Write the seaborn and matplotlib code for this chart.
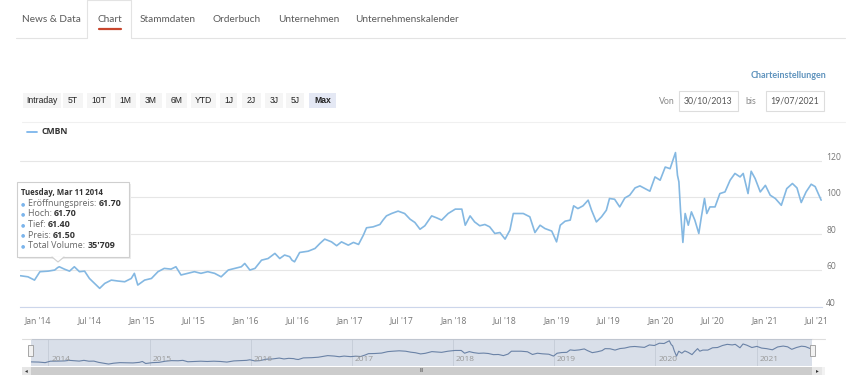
import pandas as pd
import matplotlib
matplotlib.use("Agg")
import matplotlib.pyplot as plt
import matplotlib.dates as mdates
from matplotlib.patches import Rectangle, Polygon
from matplotlib.lines import Line2D
from matplotlib.text import Annotation
from matplotlib.transforms import ScaledTranslation
import seaborn as sns

# CMBN price history (approx. every 2-3 weeks)
dates = [
    "2013-10-31", "2013-11-27", "2013-12-20", "2014-01-08", "2014-02-06", "2014-03-01",
    "2014-03-11", "2014-03-17", "2014-04-04", "2014-04-22", "2014-05-09", "2014-05-27",
    "2014-06-14", "2014-07-01", "2014-07-19", "2014-08-06", "2014-08-24", "2014-09-16",
    "2014-10-09", "2014-11-02", "2014-11-25", "2014-12-06", "2014-12-18", "2015-01-11",
    "2015-02-04", "2015-02-27", "2015-03-21", "2015-04-14", "2015-05-01", "2015-05-19",
    "2015-06-12", "2015-07-05", "2015-07-28", "2015-08-21", "2015-09-14", "2015-10-07",
    "2015-11-01", "2015-11-24", "2015-12-17", "2015-12-29", "2016-01-16", "2016-02-03",
    "2016-02-26", "2016-03-20", "2016-04-13", "2016-04-30", "2016-05-17", "2016-06-04",
    "2016-06-12", "2016-06-21", "2016-07-09", "2016-08-08", "2016-09-01", "2016-09-18",
    "2016-10-05", "2016-10-29", "2016-11-16", "2016-12-03", "2016-12-27", "2017-01-14",
    "2017-02-01", "2017-02-18", "2017-03-01", "2017-03-24", "2017-04-17", "2017-04-28",
    "2017-05-10", "2017-05-28", "2017-06-20", "2017-07-13", "2017-08-01", "2017-08-18",
    "2017-09-05", "2017-09-22", "2017-10-16", "2017-11-03", "2017-11-20", "2017-12-13",
    "2018-01-07", "2018-01-30", "2018-02-11", "2018-02-28", "2018-03-16", "2018-04-03",
    "2018-04-21", "2018-05-08", "2018-05-26", "2018-06-13", "2018-07-01", "2018-07-18",
    "2018-07-30", "2018-08-16", "2018-09-03", "2018-09-26", "2018-10-14", "2018-11-01",
    "2018-11-18", "2018-12-12", "2018-12-29", "2019-01-11", "2019-01-28", "2019-02-15",
    "2019-02-27", "2019-03-14", "2019-04-01", "2019-04-19", "2019-05-01", "2019-05-18",
    "2019-06-05", "2019-06-22", "2019-07-03", "2019-07-21", "2019-08-08", "2019-08-26",
    "2019-09-12", "2019-10-01", "2019-10-18", "2019-11-05", "2019-11-22", "2019-12-10",
    "2019-12-28", "2020-01-15", "2020-02-01", "2020-02-20", "2020-02-27", "2020-03-03",
    "2020-03-09", "2020-03-17", "2020-03-25", "2020-04-05", "2020-04-16", "2020-04-28",
    "2020-05-12", "2020-05-21", "2020-06-01", "2020-06-09", "2020-06-20", "2020-07-08",
    "2020-07-25", "2020-08-12", "2020-08-30", "2020-09-16", "2020-10-04", "2020-10-15",
    "2020-11-01", "2020-11-12", "2020-11-26", "2020-12-14", "2021-01-01", "2021-01-18",
    "2021-02-05", "2021-02-26", "2021-03-17", "2021-04-06", "2021-04-22", "2021-05-07",
    "2021-05-24", "2021-06-11", "2021-06-25", "2021-07-06", "2021-07-16",
]
prices = [
    57.1, 56.5, 54.7, 59.3, 59.6, 60.2,
    61.5, 62.0, 60.7, 59.6, 62.0, 59.3,
    59.6, 55.6, 52.9, 50.2, 52.9, 54.7,
    54.2, 53.8, 55.6, 58.4, 52.0, 54.7,
    55.6, 59.3, 61.1, 60.7, 62.0, 57.5,
    58.4, 59.3, 58.4, 59.3, 58.4, 56.5,
    60.2, 61.1, 62.0, 63.8, 60.2, 61.1,
    65.6, 66.5, 69.3, 66.5, 68.4, 67.5,
    65.6, 64.7, 69.8, 70.5, 72.0, 74.7,
    77.1, 75.6, 73.5, 75.6, 73.8, 75.3,
    74.2, 79.3, 83.3, 83.8, 85.1, 87.5,
    89.8, 91.1, 92.4, 91.1, 88.0, 86.2,
    82.5, 84.4, 89.8, 88.7, 87.5, 91.1,
    93.5, 93.5, 84.7, 89.8, 86.5, 84.4,
    85.1, 83.8, 80.2, 80.7, 77.1, 82.0,
    91.1, 91.1, 91.1, 89.3, 80.7, 84.7,
    82.9, 81.5, 75.6, 84.7, 86.9, 87.5,
    95.3, 93.8, 95.3, 98.4, 92.9, 86.5,
    89.3, 92.9, 99.3, 98.9, 94.7, 99.6,
    101.1, 105.1, 106.2, 104.7, 103.3, 111.1,
    109.3, 116.5, 115.6, 124.4, 112.0, 108.4,
    92.0, 75.3, 91.1, 84.7, 92.0, 87.5,
    80.2, 89.3, 99.3, 91.1, 94.7, 94.7,
    102.0, 102.9, 109.3, 113.0, 111.1, 113.0,
    102.0, 114.2, 110.2, 102.9, 106.5, 101.1,
    99.3, 95.6, 104.7, 107.5, 105.1, 97.1,
    102.9, 107.1, 105.8, 102.0, 98.4,
]
y_ticks = [40, 60, 80, 100, 120]
nav_years = [2014, 2015, 2016, 2017, 2018, 2019, 2020, 2021]

tabs = ["News & Data", "Chart", "Stammdaten", "Orderbuch", "Unternehmen", "Unternehmenskalender"]
ranges = ["Intraday", "5T", "10T", "1M", "3M", "6M", "YTD", "1J", "2J", "3J", "5J", "Max"]
tip_title = "Tuesday, Mar 11 2014"
tip_fields = ["Eröffnungspreis", "Hoch", "Tief", "Preis", "Total Volume"]
tip_values = ["61.70", "61.70", "61.40", "61.50", "35'709"]
date_from, date_to = "30/10/2013", "19/07/2021"

df = pd.DataFrame({"date": pd.to_datetime(dates), "price": prices})
x0, x1 = pd.Timestamp("2013-10-30"), pd.Timestamp("2021-07-19")

W, H = 860, 386
sns.set_style("white")
plt.rcParams["font.family"] = ["Open Sans", "DejaVu Sans"]

fig = plt.figure(figsize=(W / 100, H / 100), dpi=100)


def fx(x):
    return x / W


def fy(y):
    return 1 - y / H


def box(x_a, y_a, x_b, y_b, fc, ec="none", lw=0.8, z=1):
    fig.add_artist(Rectangle((fx(x_a), fy(y_b)), (x_b - x_a) / W, (y_b - y_a) / H,
                             transform=fig.transFigure, fc=fc, ec=ec, lw=lw, zorder=z))


def hline(y, x_a, x_b, color, lw=0.8):
    fig.add_artist(Line2D([fx(x_a), fx(x_b)], [fy(y), fy(y)], transform=fig.transFigure,
                          color=color, lw=lw))


# --- tab bar ---
tab_centers = [51, 110, 168, 237, 309, 407]
hline(38, 16, 87, "#e3e3e3")
hline(38, 131, 845, "#e3e3e3")
fig.add_artist(Line2D([fx(87), fx(87), fx(131), fx(131)], [fy(38), fy(0), fy(0), fy(38)],
                      transform=fig.transFigure, color="#e3e3e3", lw=0.8))
for name, cx in zip(tabs, tab_centers):
    fig.text(fx(cx), fy(20), name, ha="center", va="center", fontsize=7.2,
             color="#5a5a5a", family=["Lato", "DejaVu Sans"])
hline(28.5, 99, 121, "#c8452c", lw=1.6)

# --- range buttons ---
btn_edges = [(23, 61), (63, 83), (87, 111), (115, 136), (140, 162), (166, 187), (191, 216),
             (220, 237), (242, 261), (265, 283), (286, 304), (309, 336)]
for name, (a, b) in zip(ranges, btn_edges):
    active = name == "Max"
    box(a, 93, b, 108, "#e4e8f4" if active else "#f5f5f5")
    fig.text(fx((a + b) / 2), fy(100.8), name, ha="center", va="center", fontsize=6.2,
             color="#222222", fontweight="bold" if active else "normal",
             family=["Liberation Sans", "DejaVu Sans"])

fig.text(fx(826), fy(75.5), "Charteinstellungen", ha="right", va="center", fontsize=6.5,
         color="#5f93bd", fontweight="bold", family=["Lato", "DejaVu Sans"])
fig.text(fx(667), fy(102), "Von", ha="center", va="center", fontsize=6.3, color="#888888",
         family=["Lato", "DejaVu Sans"])
fig.text(fx(751), fy(102), "bis", ha="center", va="center", fontsize=6.3, color="#888888",
         family=["Lato", "DejaVu Sans"])
box(679, 91, 738, 111, "white", ec="#dddddd")
box(766, 91, 824, 111, "white", ec="#dddddd")
fig.text(fx(708.5), fy(101.5), date_from, ha="center", va="center", fontsize=6.3,
         color="#555555", family=["Lato", "DejaVu Sans"])
fig.text(fx(795), fy(101.5), date_to, ha="center", va="center", fontsize=6.3,
         color="#555555", family=["Lato", "DejaVu Sans"])

hline(122, 22, 845, "#f0f0f0")
fig.add_artist(Line2D([fx(27), fx(37)], [fy(131.5), fy(131.5)], transform=fig.transFigure,
                      color="#7cb5ec", lw=1.3))
fig.text(fx(41), fy(131.5), "CMBN", ha="left", va="center", fontsize=6.2, color="#333333",
         fontweight="bold")

# --- main chart ---
ax = fig.add_axes([fx(20), fy(307), 802 / W, (307 - 146) / H])
sns.lineplot(data=df, x="date", y="price", ax=ax, color="#84b8e2", lw=1.2)
ax.set_xlim(x0, x1)
ax.set_ylim(40, 128)
ax.set_xlabel("")
ax.set_ylabel("")
ax.xaxis.set_major_locator(mdates.MonthLocator(bymonth=[1, 7]))
ax.xaxis.set_major_formatter(mdates.DateFormatter("%b '%y"))
ax.yaxis.tick_right()
ax.set_yticks(y_ticks)
ax.grid(axis="y", color="#e6e6e6", lw=0.8)
ax.set_axisbelow(True)
for s in ["top", "left", "right"]:
    ax.spines[s].set_visible(False)
ax.spines["bottom"].set_color("#ccd6eb")
ax.spines["bottom"].set_linewidth(0.8)
ax.tick_params(axis="x", length=4, width=0.8, color="#ccd6eb", labelsize=6.2,
               labelcolor="#777777", pad=2.5)
ax.tick_params(axis="y", length=0, labelsize=6.2, labelcolor="#777777", pad=3)
for lab in ax.get_yticklabels():
    lab.set_transform(lab.get_transform() + ScaledTranslation(0, 4.5 / 100, fig.dpi_scale_trans))

# --- tooltip ---
box(19, 184, 131, 259, "#ececec", z=5)
box(17, 182, 129, 257, "white", ec="#cfcfcf", z=6)
fig.add_artist(Polygon([(fx(52), fy(256.6)), (fx(64), fy(256.6)), (fx(58), fy(262))],
                       closed=True, transform=fig.transFigure, fc="white", ec="none", zorder=7))
fig.add_artist(Line2D([fx(52), fx(58), fx(64)], [fy(257), fy(262), fy(257)],
                      transform=fig.transFigure, color="#cfcfcf", lw=0.8, zorder=7))
fig.text(fx(21), fy(192.5), tip_title, ha="left", va="center", fontsize=5.6, color="#333333",
         fontweight="bold", zorder=8)
row_y = [203.3, 214, 224.3, 235, 245.3]
for field, val, yy in zip(tip_fields, tip_values, row_y):
    fig.text(fx(23), fy(yy), "\u25cf", ha="center", va="center", fontsize=3.5,
             color="#7cb5ec", zorder=8)
    t = fig.text(fx(28), fy(yy), field + ": ", ha="left", va="center", fontsize=6.4,
                 color="#666666", zorder=8)
    fig.add_artist(Annotation(val, xy=(1, 0.5), xycoords=t, ha="left", va="center",
                              fontsize=6.4, color="#333333", fontweight="bold", zorder=9))

# --- navigator ---
nav = fig.add_axes([fx(31), fy(366), 781 / W, 27 / H])
nav.set_facecolor("#d9dfe9")
for yr in nav_years:
    d = pd.Timestamp(f"{yr}-01-01")
    nav.axvline(d, color="#c4cbd6", lw=0.6, zorder=0)
    nav.annotate(str(yr), xy=(d, 0), xycoords=("data", "axes fraction"), xytext=(2, 2),
                 textcoords="offset points", ha="left", va="bottom", fontsize=6,
                 color="#999999")
sns.lineplot(data=df, x="date", y="price", ax=nav, color="#6a82a6", lw=0.8)
nav.set_xlim(x0, x1)
nav.set_ylim(44, 130)
nav.set_xlabel("")
nav.set_ylabel("")
nav.set_xticks([])
nav.set_yticks([])
for s in ["left", "right", "bottom"]:
    nav.spines[s].set_visible(False)
nav.spines["top"].set_color("#c0c6d0")
nav.spines["top"].set_linewidth(0.8)
hline(339, 22, 31, "#dddddd")
hline(339, 812, 825, "#dddddd")
box(28, 345, 33, 356, "#f2f2f2", ec="#999999", lw=0.6, z=4)
box(810, 345, 815, 356, "#f2f2f2", ec="#999999", lw=0.6, z=4)

# --- scrollbar ---
box(22, 367, 825, 375, "#f2f2f2")
box(31, 367, 812, 375, "#cccccc")
box(22, 367, 31, 375, "#e6e6e6")
box(812, 367, 822, 375, "#e6e6e6")
fig.text(fx(26.5), fy(371), "\u25c2", ha="center", va="center", fontsize=4, color="#333333")
fig.text(fx(817), fy(371), "\u25b8", ha="center", va="center", fontsize=4, color="#333333")
fig.text(fx(421.5), fy(371), "III", ha="center", va="center", fontsize=3.5, color="#333333")

fig.savefig("out.png", dpi=100)
